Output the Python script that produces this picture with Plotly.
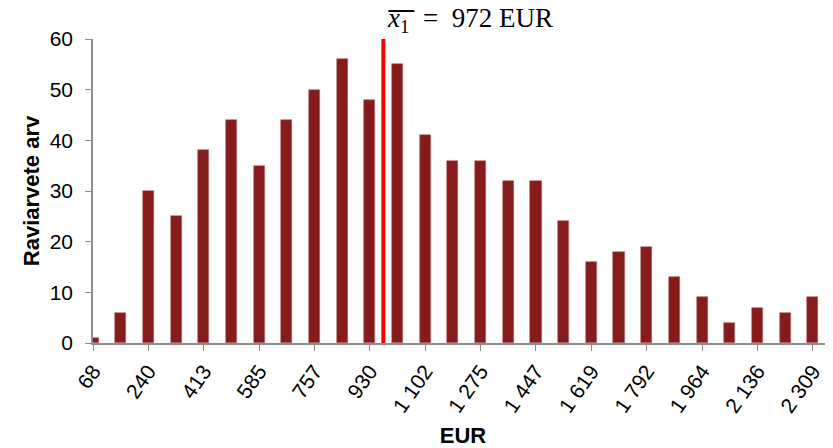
import plotly.graph_objects as go

# bin centres (EUR) and counts
bin_start = 68
bin_step = 86.2
counts = [1, 6, 30, 25, 38, 44, 35, 44, 50, 56, 48, 55, 41, 36, 36, 32, 32, 24, 16, 18, 19, 13, 9, 4, 7, 6, 9]
bins = [bin_start + i * bin_step for i in range(len(counts))]

tick_vals = bins[::2]
tick_text = ['68', '240', '413', '585', '757', '930', '1 102', '1 275', '1 447',
             '1 619', '1 792', '1 964', '2 136', '2 309']

mean_value = 972

fig = go.Figure()

fig.add_trace(go.Bar(x=bins, y=counts, width=bin_step * 0.4,
                     marker=dict(color='#861b1b', line=dict(color='#b06a6a', width=0.6)),
                     showlegend=False))

fig.add_trace(go.Scatter(x=[mean_value, mean_value], y=[0, 60.8], mode='lines',
                         line=dict(color='#ff0000', width=4), cliponaxis=False,
                         showlegend=False))

fig.add_annotation(x=mean_value, y=1.0, xref='x', yref='paper', yshift=0, xshift=2,
                   xanchor='left', yanchor='bottom', showarrow=False,
                   text='<i>x</i><sub>1</sub>&#8197; =&#8197; 972 EUR',
                   font=dict(family='Liberation Serif, DejaVu Serif, serif', size=27, color='black'))

# overline of the mean symbol
fig.add_shape(type='line', xref='x', xsizemode='pixel', xanchor=mean_value, x0=5, x1=31,
              yref='paper', y0=1.092, y1=1.092, line=dict(color='black', width=2))

# the page body adds an 8 px offset, so the figure is sized to fit what is left
fig.update_layout(
    width=825, height=440,
    margin=dict(l=85, r=0, t=31, b=105),
    paper_bgcolor='white', plot_bgcolor='white',
    font=dict(family='Liberation Sans, Arial, sans-serif', size=21, color='black'),
    bargap=0,
)

fig.update_xaxes(range=[bin_start, 2372], tickmode='array', tickvals=tick_vals, ticktext=tick_text,
                 tickangle=-55, showline=True, linecolor='#8c8c8c', linewidth=1.5,
                 ticks='outside', tickcolor='#8c8c8c', ticklen=6, showgrid=False, zeroline=False,
                 automargin=False,
                 title=dict(text='<b>EUR</b>', font=dict(size=22), standoff=22))

fig.update_yaxes(range=[0, 60], tickmode='linear', dtick=10, showline=True, linecolor='#8c8c8c',
                 linewidth=1.5, ticks='outside', tickcolor='#8c8c8c', ticklen=6,
                 ticklabelstandoff=8, showgrid=False, zeroline=False, automargin=False,
                 title=dict(text='<b>Raviarvete arv</b>', font=dict(size=22), standoff=4))

fig.write_html("out.html")
